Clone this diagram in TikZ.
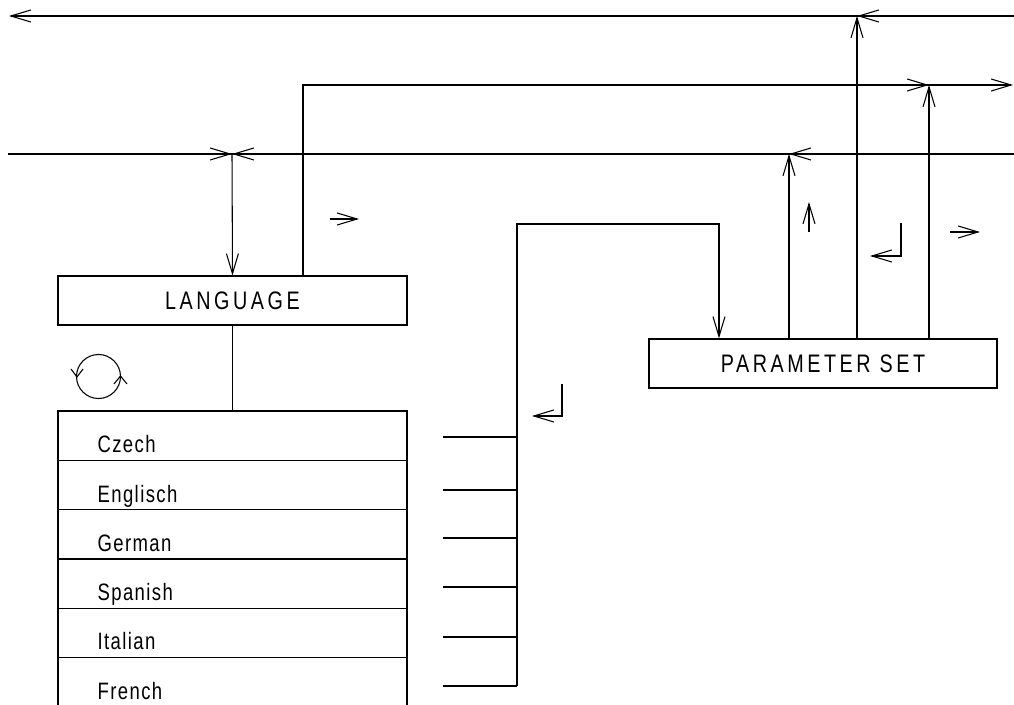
\documentclass[tikz,border=0pt]{standalone}
\usepackage{fontspec}
\setmainfont{Liberation Sans}
\usetikzlibrary{arrows.meta}
\begin{document}
\begin{tikzpicture}[x=0.75pt,y=-0.75pt,line width=0.8pt,
  arr/.style={-{Straight Barb[length=15pt,width=9pt,line width=0.8pt]}},
  box/.style={draw,minimum height=36.75pt,inner sep=0pt,
    font=\fontsize{19}{21}\selectfont\addfontfeature{FakeStretch=0.78,LetterSpace=14}},
  row/.style={draw,minimum width=261.75pt,minimum height=36.9pt,inner sep=0pt},
  lbl/.style={anchor=base west,inner sep=0pt,
    font=\fontsize{17.8}{20}\selectfont\addfontfeature{FakeStretch=0.78,LetterSpace=6}}]
\useasboundingbox (0,0) rectangle (1014,705);

% boxes
\node[box,minimum width=261.75pt] (lang) at (232.5,300.5) {LANGUAGE};
\node[box,minimum width=261pt] (param) at (823,363.5) {PARAMETER SET};

% list rows
\foreach \i/\y/\t in {1/436/Czech,2/485.2/Englisch,3/534.4/German,4/583.6/Spanish,5/632.8/Italian,6/682/French}{
  \node[row] (r\i) at (232.5,\y) {};
  \node[lbl] (t\i) at (97,\y+17) {\t};
}
\draw[line width=1.4pt] (r1.north west) -- (r1.north east);
\draw (lang.south) -- (r1.north);

% horizontal bus lines
\coordinate (tl) at (9,16);   \coordinate (tr) at (1014,16);
\coordinate (ml) at (8,154);  \coordinate (mr) at (1014,154);
\draw[arr] (tr) -- (tl);
\draw (ml) -- (mr);

% LANGUAGE connections
\coordinate (lx) at (232,154);
\draw[arr] (212,154) -- (lx);
\draw[arr] (252,154) -- (lx);
\draw[arr] (lx) -- (lang.north);
\coordinate (lc) at (303,85);
\draw[arr] (lang.north -| lc) -- (lc) -- (1013,85);

% PARAMETER SET connections
\coordinate (pa) at (789,154);
\coordinate (pb) at (857,16);
\coordinate (pc) at (929,85);
\draw[arr] (param.north -| pa) -- (pa);
\draw[arr] (809,154) -- (pa);
\draw[arr] (param.north -| pb) -- (pb);
\draw[arr] (877,16) -- (pb);
\draw[arr] (param.north -| pc) -- (pc);
\draw[arr] (909,85) -- (pc);

% bracket from list to PARAMETER SET
\coordinate (b0) at (517,686);
\coordinate (b1) at (517,224);
\coordinate (b2) at (719,224);
\draw[arr] (b0) -- (b1) -- (b2) -- (param.north -| b2);
\foreach \y in {437,490,538,587,637,686}{
  \draw (443,\y) -- (517,\y);
}

% small direction symbols
\draw[arr] (330,219) -- (359,219);
\draw[arr] (950,232) -- (980,232);
\draw[arr] (809,232) -- (809,202);
\draw[arr] (901,223) -- (901,256) -- (870,256);
\draw[arr] (562,384) -- (562,416) -- (532,416);

% rotation circle
\coordinate (cc) at (98.5,376.5);
\draw (cc) circle[radius=16.5pt];
\draw (71,369) -- (77,377) -- (83,369);
\draw (114,384) -- (120.5,376) -- (127,384);
\end{tikzpicture}
\end{document}
